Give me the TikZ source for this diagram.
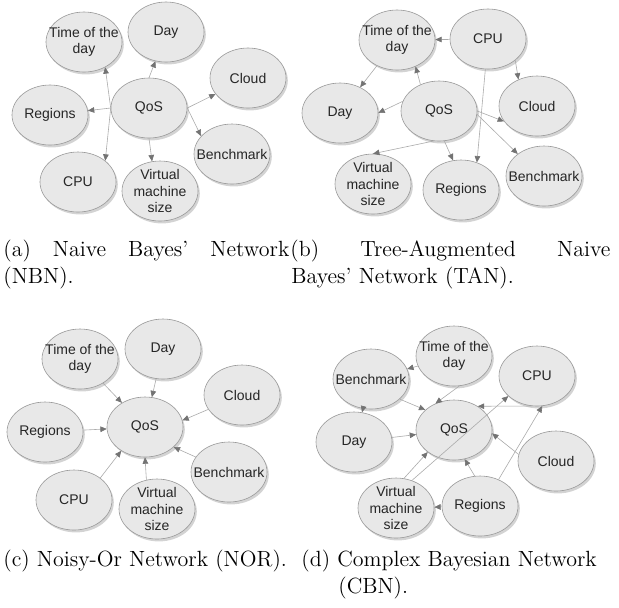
\documentclass[tikz,border=0pt]{standalone}
\usepackage{fontspec}
\newfontfamily\lsans{Liberation Sans}
\usetikzlibrary{arrows.meta,shapes.geometric,shadows}

\begin{document}
\begin{tikzpicture}[x=.5pt, y=-.5pt,
  var/.style={ellipse, draw=black!40, fill=black!9, line width=.3pt,
    minimum width=38pt, minimum height=30pt, inner sep=-20pt, align=center,
    font=\lsans\fontsize{7}{8.25}\selectfont, text=black!85,
    drop shadow={shadow xshift=.9pt, shadow yshift=-1.2pt, opacity=.35}},
  dep/.style={draw=black!33, line width=.3pt,
    -{Triangle[width=2.8pt,length=3.2pt,color=black!55]}},
  captext/.style={anchor=base west, inner sep=0pt, font=\fontsize{11}{13}\selectfont}]
\useasboundingbox (0,0) rectangle (619,607);

% (a) naive Bayes
\node[var] (timeA) at (84,42) {Time of the\\day};
\node[var] (dayA) at (166,32) {Day};
\node[var] (cloudA) at (248,78) {Cloud};
\node[var] (qosA) at (149,108) {QoS};
\node[var] (regA) at (50,115) {Regions};
\node[var] (benchA) at (232,154) {Benchmark};
\node[var] (cpuA) at (78,182) {CPU};
\node[var] (vmA) at (160,191) {Virtual\\machine\\size};
\draw[dep] (qosA.west) -- (timeA.-50);
\draw[dep] (qosA.north) -- (dayA.-110);
\draw[dep] (qosA.east) -- (cloudA);
\draw[dep] (qosA.west) -- (regA);
\draw[dep] (qosA.east) -- (benchA.150);
\draw[dep] (qosA.south) -- (vmA.105);
\draw[dep] (qosA.west) -- (cpuA.38);

% (b) tree-augmented
\node[var] (timeB) at (397,40) {Time of the\\day};
\node[var] (cpuB) at (488,39) {CPU};
\node[var] (dayB) at (340,113) {Day};
\node[var] (qosB) at (439,111) {QoS};
\node[var] (cloudB) at (537,106) {Cloud};
\node[var] (vmB) at (373,184) {Virtual\\machine\\size};
\node[var] (regB) at (461,190) {Regions};
\node[var] (benchB) at (544,176) {Benchmark};
\draw[dep] (cpuB) -- (timeB);
\draw[dep] (cpuB.-38) -- (cloudB.125);
\draw[dep] (cpuB.-95) -- (regB.60);
\draw[dep] (timeB) -- (dayB);
\draw[dep] (qosB.125) -- (timeB.-55);
\draw[dep] (qosB.165) -- (dayB.east);
\draw[dep] (qosB.east) -- (cloudB.205);
\draw[dep] (qosB.-5) -- (benchB.140);
\draw[dep] (qosB.-100) -- (vmB.north);
\draw[dep] (qosB.-80) -- (regB.105);

% (c) noisy-or
\node[var] (timeC) at (80,359) {Time of the\\day};
\node[var] (dayC) at (163,349) {Day};
\node[var] (cloudC) at (242,395) {Cloud};
\node[var] (qosC) at (145,427) {QoS};
\node[var] (regC) at (45,432) {Regions};
\node[var] (benchC) at (229,472) {Benchmark};
\node[var] (cpuC) at (74,500) {CPU};
\node[var] (vmC) at (157,509) {Virtual\\machine\\size};
\draw[dep] (timeC) -- (qosC);
\draw[dep] (dayC) -- (qosC);
\draw[dep] (cloudC) -- (qosC.10);
\draw[dep] (regC) -- (qosC);
\draw[dep] (benchC) -- (qosC.-35);
\draw[dep] (vmC.110) -- (qosC.south);
\draw[dep] (cpuC.40) -- (qosC.-135);

% (d) complex
\node[var] (timeD) at (454,356) {Time of the\\day};
\node[var] (cpuD) at (537,376) {CPU};
\node[var] (benchD) at (371,379) {Benchmark};
\node[var] (qosD) at (454,430) {QoS};
\node[var] (dayD) at (354,442) {Day};
\node[var] (cloudD) at (556,461) {Cloud};
\node[var] (vmD) at (396,508) {Virtual\\machine\\size};
\node[var] (regD) at (480,506) {Regions};
\draw[dep] (timeD) -- (benchD);
\draw[dep] (timeD.-80) -- (qosD.125);
\draw[dep] (benchD.-35) -- (qosD.145);
\draw[dep] (benchD) -- (dayD);
\draw[dep] (dayD) -- (qosD);
\draw[dep] (cpuD.-100) -- (qosD.45);
\draw[dep] (regD.55) -- (cpuD.-80);
\draw[dep] (vmD.60) -- (cpuD.-145);
\draw[dep] (vmD.75) -- (qosD.-140);
\draw[dep] (regD.100) -- (qosD.-70);
\draw[dep] (cloudD.170) -- (qosD.-5);
\draw[dep] (regD) -- (vmD);

% captions
\node[captext] (capA) at (3,256) {\makebox[143pt][s]{(a) Naive Bayes' Network}};
\node[captext] (capA2) at (3,283) {(NBN).};
\node[captext] (capB) at (290,256) {\makebox[160pt][s]{(b) Tree-Augmented Naive}};
\node[captext] (capB2) at (291,283) {Bayes' Network (TAN).};
\node[captext] (capC) at (3,566) {(c) Noisy-Or Network (NOR).};
\node[captext] (capD) at (301,566) {(d) Complex Bayesian Network};
\node[captext] (capD2) at (338,593) {(CBN).};
\end{tikzpicture}
\end{document}
